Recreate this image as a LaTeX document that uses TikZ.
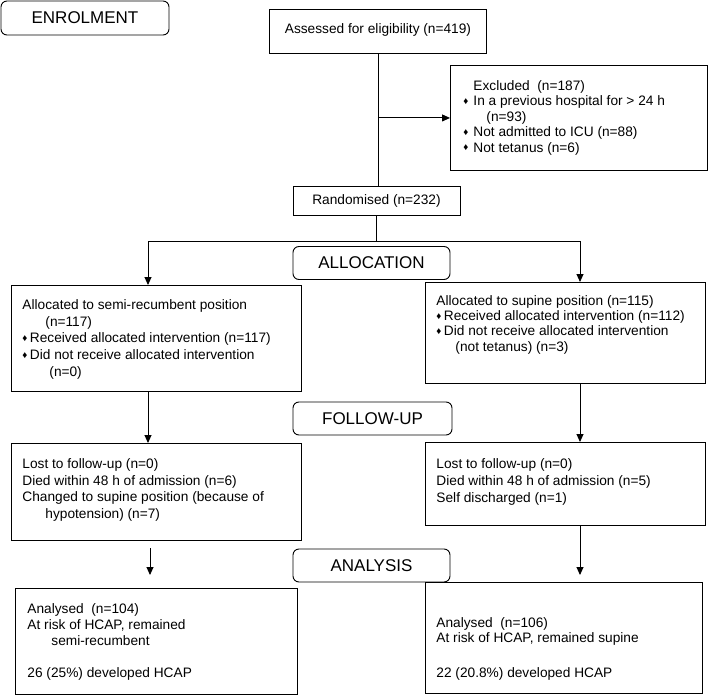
\documentclass[tikz,border=0pt]{standalone}
\usepackage{fontspec}
\setmainfont{Liberation Sans}
\usetikzlibrary{arrows.meta,positioning}

% small diamond bullet and top-aligned box text
\newcommand{\bul}[1][7.5pt]{\makebox[#1][l]{\raisebox{0.2ex}{\scalebox{0.72}{♦}}}}
\newcommand{\boxtxt}[5]{\parbox[c][#2][t]{#1}{\fontsize{13.7}{#4}\selectfont\vspace*{#3}\raggedright\noindent #5}}

\tikzset{
  panel/.style={draw, line width=0.9pt, anchor=north west, inner ysep=0pt, inner xsep=11pt},
  stage/.style={draw, line width=0.9pt, rounded corners=6pt, inner sep=0pt,
    minimum width=157pt, minimum height=33pt, font=\fontsize{17}{20}\selectfont},
  arr/.style={-{Triangle[length=8pt,width=7pt]}},
}

\begin{document}
\begin{tikzpicture}[x=1pt, y=-1pt, line width=0.9pt, font=\fontsize{13.7}{16.5}\selectfont]
\useasboundingbox (0,0) rectangle (709,695);

% stages
\node[stage, minimum width=168pt, minimum height=34pt] (enrol) at (85,18) {ENROLMENT};
\node[stage] (alloc) at (371.5,263) {ALLOCATION};
\node[stage, minimum width=159pt] (fup) at (372.5,418.5) {FOLLOW-UP};
\node[stage] (ana) at (371.5,565.5) {ANALYSIS};

% enrolment
\node[panel, inner xsep=0pt] (assess) at (269,9)
  {\boxtxt{217pt}{44pt}{14pt}{16pt}{\centering Assessed for eligibility (n=419)}};
\node[panel, inner xsep=13pt] (excl) at (450,65)
  {\boxtxt{231pt}{105pt}{15pt}{15.5pt}{\hspace*{10pt}Excluded~ (n=187)\\
   \bul[10pt]In a previous hospital for > 24 h\\
   \hspace*{23pt}(n=93)\\
   \bul[10pt]Not admitted to ICU (n=88)\\
   \bul[10pt]Not tetanus (n=6)}};
\node[draw, minimum width=167pt, minimum height=29pt, inner sep=0pt] (rand) at (376.5,200.5) {Randomised (n=232)};

% allocation
\node[panel] (allocL) at (11,285)
  {\boxtxt{268pt}{106pt}{14pt}{16.7pt}{Allocated to semi-recumbent position\\
   \hspace*{23pt}(n=117)\\
   \bul Received allocated intervention (n=117)\\
   \bul Did not receive allocated intervention\\
   \hspace*{27pt}(n=0)}};
\node[panel] (allocR) at (425,282)
  {\boxtxt{258pt}{101pt}{13pt}{15.3pt}{Allocated to supine position (n=115)\\
   \bul Received allocated intervention (n=112)\\
   \bul Did not receive allocated intervention\\
   \hspace*{19pt}(not tetanus) (n=3)}};

% follow-up
\node[panel] (fupL) at (11,443)
  {\boxtxt{268pt}{97pt}{15pt}{16.7pt}{Lost to follow-up (n=0)\\
   Died within 48 h of admission (n=6)\\
   Changed to supine position (because of\\
   \hspace*{23pt}hypotension) (n=7)}};
\node[panel] (fupR) at (425,442)
  {\boxtxt{258pt}{83pt}{16pt}{17pt}{Lost to follow-up (n=0)\\
   Died within 48 h of admission (n=5)\\
   Self discharged (n=1)}};

% analysis
\node[panel, inner xsep=12pt] (anaL) at (15,588)
  {\boxtxt{258pt}{106pt}{15pt}{16pt}{Analysed~ (n=104)\\
   At risk of HCAP, remained\\
   \hspace*{24pt}semi-recumbent\\[16pt]
   26 (25\%) developed HCAP}};
\node[panel] (anaR) at (425,582)
  {\boxtxt{255pt}{111pt}{35pt}{15pt}{Analysed~ (n=106)\\
   At risk of HCAP, remained supine\\[20pt]
   22 (20.8\%) developed HCAP}};

% lanes
\coordinate (laneL) at (148,0);
\coordinate (laneR) at (580,0);
\coordinate (split) at (378,241);
\coordinate (gapA) at (150,548);
\coordinate (gapB) at (150,575);

\draw (assess.south) -- (assess.south |- rand.north);
\draw[arr] (assess.south |- excl.west) -- (excl.west);
\draw (rand.south) -- (rand.south |- split);
\draw[arr] (rand.south |- split) -| (laneL |- allocL.north);
\draw[arr] (rand.south |- split) -| (laneR |- allocR.north);
\draw[arr] (laneL |- allocL.south) -- (laneL |- fupL.north);
\draw[arr] (laneR |- allocR.south) -- (laneR |- fupR.north);
\draw[arr] (gapA) -- (gapB);
\draw[arr, shorten >=7pt] (laneR |- fupR.south) -- (laneR |- anaR.north);

\end{tikzpicture}
\end{document}
